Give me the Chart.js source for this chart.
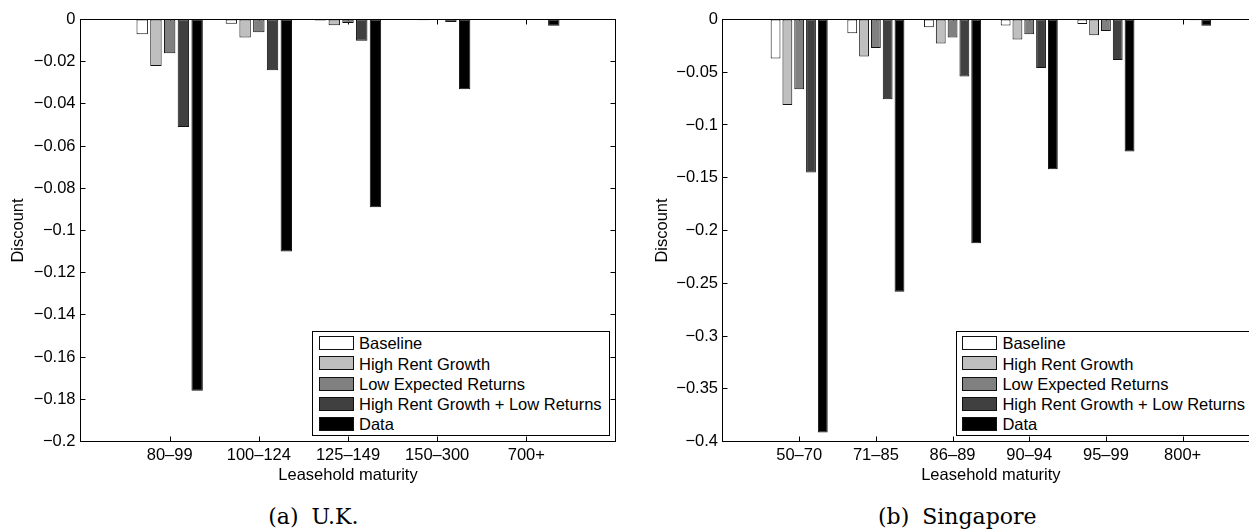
<!DOCTYPE html>
<html>
<head>
<meta charset="utf-8">
<script src="https://cdn.jsdelivr.net/npm/chart.js@4.4.1/dist/chart.umd.min.js"></script>
<style>
html,body{margin:0;padding:0;background:#fff;width:1249px;height:529px;overflow:hidden;position:relative;}
canvas{position:absolute;top:0;}
#c1{left:0;}
#c2{left:640px;}
.legend{position:absolute;top:331px;height:105px;border:1px solid #000;background:#fff;box-sizing:border-box;font:16.5px 'Liberation Sans',Arial,sans-serif;color:#000;}
.row{position:absolute;left:0;height:14px;white-space:nowrap;}
.sw{position:absolute;left:5.7px;top:0;width:35px;height:14px;border:1px solid #111;box-sizing:border-box;}
.lt{position:absolute;left:45.7px;top:-2.8px;line-height:20px;}
.cap{position:absolute;top:506.4px;font:22px 'DejaVu Serif',serif;line-height:22px;word-spacing:6px;white-space:nowrap;transform:translateX(-50%);color:#000;}
</style>
</head>
<body>
<canvas id="c1" width="640" height="500"></canvas>
<canvas id="c2" width="640" height="500"></canvas>
<div id="lg1" class="legend" style="left:312.3px;width:298px;"></div>
<div id="lg2" class="legend" style="left:955.7px;width:299px;"></div>
<div class="cap" style="left:313.3px;">(a) U.K.</div>
<div class="cap" style="left:957.3px;">(b) Singapore</div>
<script>
// ---- data ----
const seriesNames = ['Baseline','High Rent Growth','Low Expected Returns','High Rent Growth + Low Returns','Data'];
const seriesColors = ['#ffffff','#bfbfbf','#808080','#404040','#000000'];

const ukCategories = ['80–99','100–124','125–149','150–300','700+'];
const ukBaseline   = [-0.007, -0.002, -0.0005, 0, 0];
const ukHighRent   = [-0.022, -0.0085, -0.0027, -0.0003, 0];
const ukLowReturns = [-0.016, -0.006, -0.0016, 0, 0];
const ukCombined   = [-0.051, -0.024, -0.0101, -0.0012, 0];
const ukData       = [-0.176, -0.110, -0.089, -0.033, -0.003];
const ukYTicks     = [0, -0.02, -0.04, -0.06, -0.08, -0.1, -0.12, -0.14, -0.16, -0.18, -0.2];

const sgCategories = ['50–70','71–85','86–89','90–94','95–99','800+'];
const sgBaseline   = [-0.037, -0.013, -0.0073, -0.0057, -0.0042, -0.0003];
const sgHighRent   = [-0.081, -0.035, -0.0227, -0.019, -0.015, -0.0005];
const sgLowReturns = [-0.066, -0.027, -0.017, -0.014, -0.011, -0.0003];
const sgCombined   = [-0.145, -0.0755, -0.054, -0.046, -0.0385, -0.0008];
const sgData       = [-0.3915, -0.258, -0.212, -0.142, -0.125, -0.006];
const sgYTicks     = [0, -0.05, -0.1, -0.15, -0.2, -0.25, -0.3, -0.35, -0.4];

// ---- rendering ----
const FONT = {family:"'Liberation Sans', Arial, sans-serif", size:16.5};
Chart.defaults.font.family = FONT.family;
Chart.defaults.font.size = FONT.size;
Chart.defaults.color = '#000';

const fmt = v => String(v).replace('-', '\u2212');

const framePlugin = {
  id: 'frame',
  beforeDatasetsDraw(chart) {
    const {ctx, chartArea: a, scales: {x, y}} = chart;
    const L = 5;
    ctx.save();
    ctx.strokeStyle = '#000';
    ctx.lineWidth = 1;
    ctx.beginPath();
    x.ticks.forEach((t, i) => {
      if (!t.label) return;
      const px = Math.round(x.getPixelForTick(i)) + 0.5;
      ctx.moveTo(px, a.bottom); ctx.lineTo(px, a.bottom - L);
      ctx.moveTo(px, a.top); ctx.lineTo(px, a.top + L);
    });
    y.ticks.forEach((t, i) => {
      const py = Math.round(y.getPixelForTick(i) - 0.5) + 0.5;
      ctx.moveTo(a.left, py); ctx.lineTo(a.left + L, py);
      ctx.moveTo(a.right, py); ctx.lineTo(a.right - L, py);
    });
    ctx.stroke();
    ctx.strokeRect(a.left, a.top, a.right - a.left, a.bottom - a.top);
    ctx.restore();
  }
};

function makeChart(id, legendId, cats, series, yTicks, geo) {
  const labels = [''].concat(cats, ['']);
  const datasets = series.map((vals, k) => ({
    label: seriesNames[k],
    data: [null].concat(vals, [null]),
    backgroundColor: seriesColors[k],
    borderColor: '#111',
    borderWidth: 1,
    borderSkipped: false,
    categoryPercentage: 0.77,
    barPercentage: 0.83
  }));
  const H = 500;
  const chart = new Chart(document.getElementById(id), {
    type: 'bar',
    data: {labels, datasets},
    plugins: [framePlugin],
    options: {
      responsive: false,
      animation: false,
      devicePixelRatio: 1,
      events: [],
      layout: {padding: {left: 0, top: geo.top, right: geo.right, bottom: 0}},
      plugins: {legend: {display: false}, tooltip: {enabled: false}},
      scales: {
        x: {
          type: 'category',
          offset: false,
          grid: {display: false, drawTicks: false},
          border: {display: false},
          ticks: {autoSkip: false, maxRotation: 0, minRotation: 0, padding: 4.5, color: '#000', font: FONT},
          title: {display: true, text: 'Leasehold maturity', color: '#000', font: FONT, padding: {top: 0, bottom: 15.1}},
          afterFit: s => { s.height = H - geo.bottom; }
        },
        y: {
          type: 'linear',
          min: yTicks[yTicks.length - 1],
          max: yTicks[0],
          grid: {display: false, drawTicks: false},
          border: {display: false},
          ticks: {autoSkip: false, padding: geo.tickPad, color: '#000', font: FONT, callback: v => fmt(v)},
          afterBuildTicks: s => { s.ticks = yTicks.map(v => ({value: v})); },
          title: {display: true, text: 'Discount', color: '#000', font: FONT, padding: {top: geo.titlePad, bottom: 0}},
          afterFit: s => { s.width = geo.left; }
        }
      }
    }
  });
  // legend built from the chart's datasets
  const lg = document.getElementById(legendId);
  chart.data.datasets.forEach((ds, i) => {
    const row = document.createElement('div');
    row.className = 'row';
    row.style.top = (4 + 20.3 * i) + 'px';
    const sw = document.createElement('div');
    sw.className = 'sw';
    sw.style.background = ds.backgroundColor;
    const t = document.createElement('div');
    t.className = 'lt';
    t.textContent = ds.label;
    row.appendChild(sw); row.appendChild(t);
    lg.appendChild(row);
  });
  return chart;
}

makeChart('c1', 'lg1', ukCategories, [ukBaseline, ukHighRent, ukLowReturns, ukCombined, ukData], ukYTicks,
  {top: 19.5, bottom: 441.5, left: 80.5, right: 640 - 615.5, tickPad: 5, titlePad: 8.3});
makeChart('c2', 'lg2', sgCategories, [sgBaseline, sgHighRent, sgLowReturns, sgCombined, sgData], sgYTicks,
  {top: 19.5, bottom: 441.5, left: 82.5, right: 640 - 619.3, tickPad: 4.5, titlePad: 12.6});
</script>
</body>
</html>
